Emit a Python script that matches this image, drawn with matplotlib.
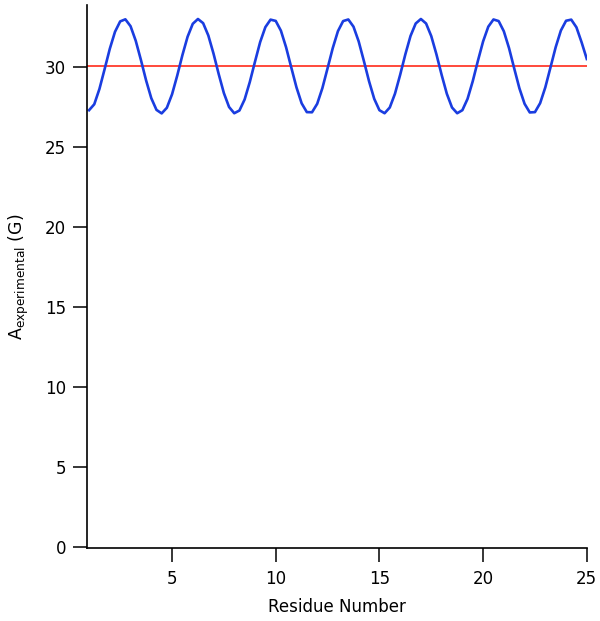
import numpy as np
import matplotlib.pyplot as plt

plt.rcParams['font.family'] = ['DejaVu Sans']
plt.rcParams['mathtext.default'] = 'regular'

residue = np.arange(1.0, 25.01, 0.25)
a_exp = [
    27.30, 27.67, 28.63, 29.87, 31.14, 32.20, 32.85, 32.98, 32.55, 31.64,
    30.44, 29.16, 28.05, 27.32, 27.10, 27.45, 28.29, 29.46, 30.74, 31.89,
    32.70, 33.00, 32.74, 31.97, 30.84, 29.56, 28.37, 27.50, 27.11, 27.28,
    27.97, 29.06, 30.33, 31.56, 32.49, 32.96, 32.88, 32.27, 31.23, 29.97,
    28.73, 27.73, 27.18, 27.17, 27.70, 28.68, 29.92, 31.18, 32.24, 32.87,
    32.97, 32.52, 31.60, 30.38, 29.11, 28.01, 27.30, 27.11, 27.47, 28.33,
    29.51, 30.79, 31.94, 32.72, 33.00, 32.72, 31.93, 30.79, 29.51, 28.33,
    27.47, 27.11, 27.30, 28.01, 29.11, 30.39, 31.60, 32.52, 32.97, 32.87,
    32.23, 31.18, 29.91, 28.67, 27.70, 27.16, 27.18, 27.74, 28.73, 29.98,
    31.24, 32.28, 32.89, 32.96, 32.48, 31.54, 30.50,
]
a_mean = 30.05

fig = plt.figure(figsize=(6, 6.21), dpi=100)
ax = fig.add_axes([0.145, 0.1176, 0.833, 0.875])

ax.axhline(a_mean, color='#ff2a1a', lw=1.2)
ax.plot(residue, a_exp, color='#1a3de0', lw=1.9)

ax.set_xlim(0.9, 25)
ax.set_ylim(-0.06, 33.9)
ax.set_xticks([5, 10, 15, 20, 25])
ax.set_yticks([0, 5, 10, 15, 20, 25, 30])

for s in ['top', 'right']:
    ax.spines[s].set_visible(False)
for s in ['left', 'bottom']:
    ax.spines[s].set_linewidth(1.2)
ax.tick_params(direction='out', length=10, width=1.1, labelsize=12)
ax.tick_params(axis='x', pad=6)
ax.tick_params(axis='y', pad=5)

ax.set_xlabel('Residue Number', fontsize=12, labelpad=7)
ax.set_ylabel(r'$A_{experimental}$ (G)', fontsize=12.5, labelpad=10)

fig.savefig('out.png', dpi=100)
